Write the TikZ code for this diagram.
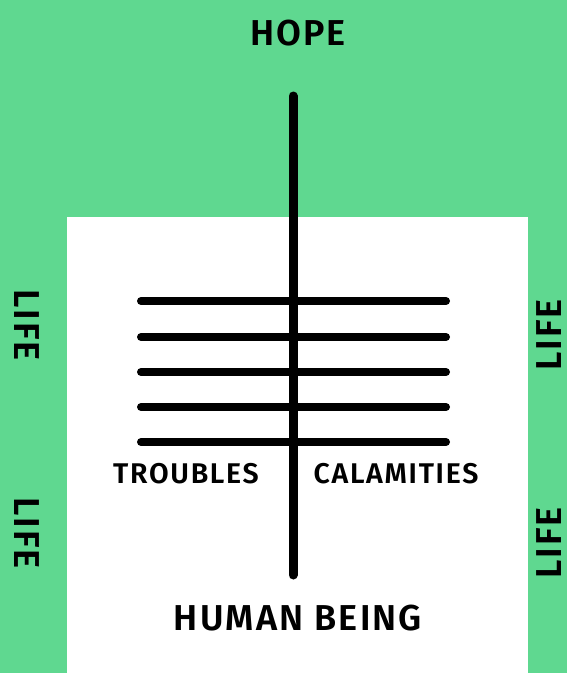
\documentclass[tikz,border=0pt]{standalone}
\usepackage{fontspec}
\setmainfont{Fira Sans}[BoldFont={Fira Sans SemiBold}, LetterSpace=6]
\usepackage{xcolor}
\usepackage{tikz}
\usetikzlibrary{positioning}
\definecolor{lifegreen}{HTML}{5FD890}

\begin{document}
\begin{tikzpicture}[x=1pt,y=-1pt,
  bar/.style={line width=8pt, line cap=round},
  word/.style={font=\bfseries\fontsize{36}{42}\selectfont, inner sep=0pt},
  small/.style={font=\bfseries\fontsize{28.5}{33}\selectfont, inner sep=0pt}]
  % background
  \fill[lifegreen] (0,0) rectangle (567,673);
  \useasboundingbox (0,0) rectangle (567,673);
  \fill[white] (67,217) rectangle (528,673);

  % main stem
  \draw[bar, line width=9pt] (293,96) -- (293,575);

  % cross bars
  \foreach \y in {301,337,372,407,442}{
    \draw[bar] (141,\y) -- (446,\y);
  }

  % labels
  \node[word] (hope) at (298,33) {HOPE};
  \node[word] (human) at (298,618) {HUMAN BEING};
  \node[small] (troubles) at (186,474) {TROUBLES};
  \node[small] (calamities) at (396,474) {CALAMITIES};

  % life on the sides
  \node[word, rotate=-90] (lifeA) at (27,325) {LIFE};
  \node[word, rotate=-90] (lifeB) at (27,533) {LIFE};
  \node[word, rotate=90] (lifeC) at (549,335) {LIFE};
  \node[word, rotate=90] (lifeD) at (549,543) {LIFE};
\end{tikzpicture}
\end{document}
